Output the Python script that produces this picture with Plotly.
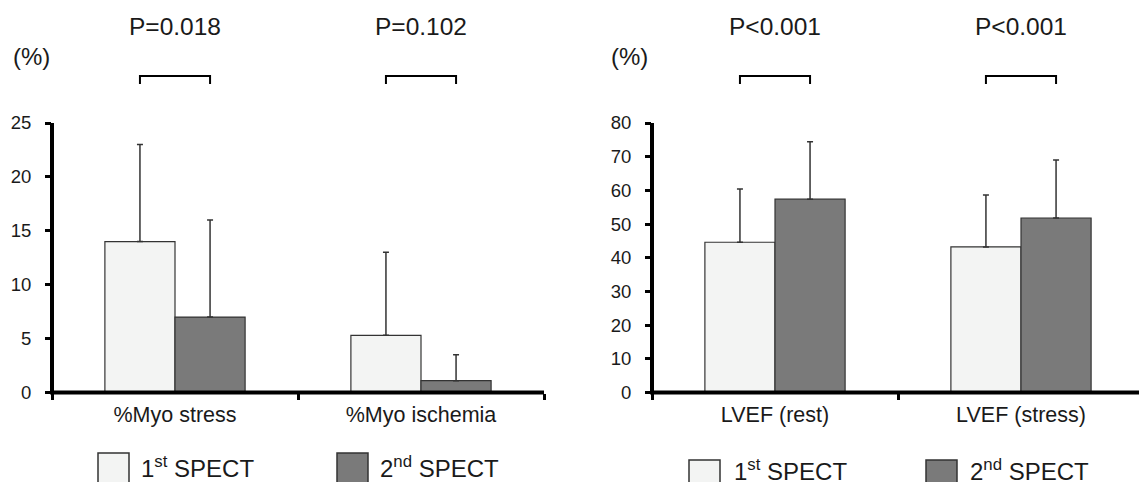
import plotly.graph_objects as go

# ---------------- data ----------------
cats_left = ["%Myo stress", "%Myo ischemia"]
first_left = [14.0, 5.3]
first_left_sd = [9.0, 7.7]
second_left = [7.0, 1.1]
second_left_sd = [9.0, 2.4]

cats_right = ["LVEF (rest)", "LVEF (stress)"]
first_right = [44.6, 43.2]
first_right_sd = [15.8, 15.4]
second_right = [57.4, 51.8]
second_right_sd = [17.0, 17.2]

p_left = ["P=0.018", "P=0.102"]
p_right = ["P<0.001", "P<0.001"]

yticks_left = [0, 5, 10, 15, 20, 25]
yticks_right = [0, 10, 20, 30, 40, 50, 60, 70, 80]

series_names = ["1<sup>st</sup> SPECT", "2<sup>nd</sup> SPECT"]

# ---------------- style ----------------
W, H = 1139, 482
FONT = "Liberation Sans, Arial, sans-serif"
TXT = "#1a1a1a"
C1 = "#f3f4f3"
C2 = "#7a7a7a"
EDGE = "#333333"
BARGAP = 0.43


def px(x):
    return x / W


def py(y):
    return 1 - y / H


fig = go.Figure()


def add_bars(cats, v1, s1, v2, s2, xa, ya):
    for vals, sd, col in ((v1, s1, C1), (v2, s2, C2)):
        fig.add_trace(go.Bar(
            x=cats, y=vals, xaxis=xa, yaxis=ya,
            marker=dict(color=col, line=dict(color=EDGE, width=1.2)),
            error_y=dict(type="data", symmetric=False, array=sd,
                         arrayminus=[0] * len(sd), color=EDGE,
                         thickness=1.5, width=3),
            showlegend=False,
        ))


add_bars(cats_left, first_left, first_left_sd, second_left, second_left_sd, "x", "y")
add_bars(cats_right, first_right, first_right_sd, second_right, second_right_sd, "x2", "y2")

y0, y1 = py(392.5), py(123)
axis_common = dict(showline=False, showgrid=False,
                   zeroline=False, ticks="outside", tickcolor="black",
                   tickwidth=2.5, ticklen=6, fixedrange=True)

fig.update_layout(
    width=W, height=H,
    margin=dict(l=0, r=0, t=0, b=0, pad=0, autoexpand=False),
    paper_bgcolor="white", plot_bgcolor="white",
    barmode="group", bargap=BARGAP, bargroupgap=0,
    font=dict(family=FONT, color=TXT),
    xaxis=dict(domain=[px(52), px(544)], range=[-0.5, 1.5], type="category",
               tickson="boundaries", anchor="y", automargin=False,
               tickfont=dict(size=21.5, family=FONT, color=TXT),
               ticklabelstandoff=7, **axis_common),
    yaxis=dict(domain=[y0, y1], range=[0, 25], tickmode="array",
               tickvals=yticks_left, anchor="x", automargin=False,
               tickfont=dict(size=18.5, family=FONT, color=TXT),
               ticklabelstandoff=10, **axis_common),
    xaxis2=dict(domain=[px(652), 1.0], range=[-0.5, 1.5 - 5 / 246], type="category",
                tickson="boundaries", anchor="y2", automargin=False,
                tickfont=dict(size=21.5, family=FONT, color=TXT),
                ticklabelstandoff=7, **axis_common),
    yaxis2=dict(domain=[y0, y1], range=[0, 80], tickmode="array",
                tickvals=yticks_right, anchor="x2", automargin=False,
                tickfont=dict(size=18.5, family=FONT, color=TXT),
                ticklabelstandoff=10, **axis_common),
)

shapes = []
annotations = []

# thick axis lines
for xs, ys in (("x", "y"), ("x2", "y2")):
    shapes.append(dict(type="line", xref=f"{xs} domain", yref=f"{ys} domain",
                       x0=0, x1=0, y0=-0.006, y1=1, layer="above",
                       line=dict(color="black", width=4)))
    shapes.append(dict(type="line", xref=f"{xs} domain", yref=f"{ys} domain",
                       x0=-0.004, x1=1, y0=0, y1=0, layer="above",
                       line=dict(color="black", width=4)))

# ---------------- brackets and p-values ----------------
half = (1 - BARGAP) / 4  # offset of each bar centre from category centre
for xref, pvals in (("x", p_left), ("x2", p_right)):
    for i, ptxt in enumerate(pvals):
        xa, xb = i - half, i + half
        shapes.append(dict(type="path", xref=xref, yref="paper",
                           path=f"M {xa},{py(84)} L {xa},{py(76)} L {xb},{py(76)} L {xb},{py(84)}",
                           line=dict(color="black", width=2)))
        annotations.append(dict(x=i, y=py(26), xref=xref, yref="paper",
                                text=ptxt, showarrow=False, xanchor="center",
                                yanchor="middle",
                                font=dict(size=24.5, family=FONT, color=TXT)))

# (%) labels
for cx in (31, 629):
    annotations.append(dict(x=px(cx), y=py(56), xref="paper", yref="paper",
                            text="(%)", showarrow=False, xanchor="center",
                            yanchor="middle",
                            font=dict(size=24, family=FONT, color=TXT)))

# ---------------- legends ----------------
legend_specs = [
    # (box left, box top, text left, text centre y) for each series, per panel
    ((98, 453, 139, 467), (337, 453, 378, 467)),
    ((689, 460, 732, 469.5), (926, 460, 968, 469.5)),
]
for panel in legend_specs:
    for (bx, by, tx, ty), col, name in zip(panel, (C1, C2), series_names):
        shapes.append(dict(type="rect", xref="paper", yref="paper",
                           x0=px(bx), x1=px(bx + 31), y0=py(by + 40), y1=py(by),
                           fillcolor=col, line=dict(color=EDGE, width=1.5)))
        annotations.append(dict(x=px(tx), y=py(ty), xref="paper", yref="paper",
                                text=name, showarrow=False, xanchor="left",
                                yanchor="middle",
                                font=dict(size=24, family=FONT, color=TXT)))

fig.update_layout(shapes=shapes, annotations=annotations)

fig.write_html("out.html")
